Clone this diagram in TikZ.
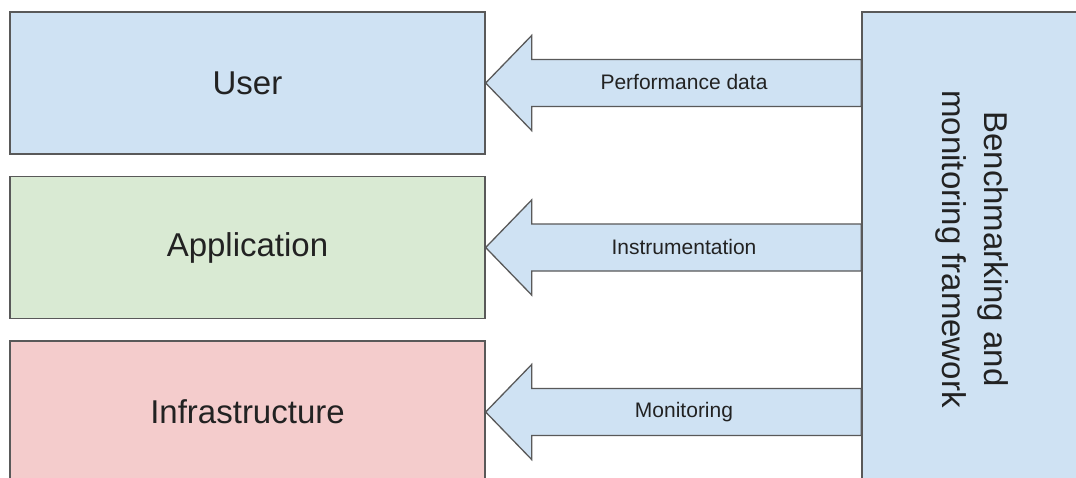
\documentclass[tikz,border=0pt]{standalone}
\usepackage{fontspec}
\setmainfont{Liberation Sans}
\usetikzlibrary{calc}
\definecolor{ublue}{HTML}{CFE2F3}
\definecolor{agreen}{HTML}{D9EAD3}
\definecolor{ired}{HTML}{F4CCCC}
\definecolor{edgegray}{HTML}{595959}
\definecolor{txt}{HTML}{222222}
\begin{document}
\begin{tikzpicture}[x=1pt,y=-1pt,
  layerbox/.style={draw=edgegray, line width=1.3pt, inner sep=0pt, minimum width=475pt, minimum height=142pt, text=txt, font=\fontsize{33}{40}\selectfont},
  blockarrow/.style={draw=edgegray, line width=1.3pt, fill=ublue, line join=miter},
  arrowlabel/.style={text=txt, font=\fontsize{21}{25}\selectfont, inner sep=0pt}]
\useasboundingbox (0,0) rectangle (1076,477);
\clip (0,0) rectangle (1076,477);
\fill[white] (0,0) rectangle (1076,477);
\node[layerbox, fill=ublue] (user) at (247.5,83) {User};
\node[layerbox, fill=agreen] (app) at (247.5,247.5) {Application};
\node[layerbox, fill=ired] (infra) at (247.5,412) {Infrastructure};
\node[draw=edgegray, line width=1.3pt, fill=ublue, inner sep=0pt, minimum width=228pt, minimum height=478pt] (fw) at (976,251) {};
\node[rotate=-90, align=center, text=txt, font=\fontsize{33}{42}\selectfont, inner sep=0pt] (fwtext) at (972,249) {Benchmarking and\\monitoring framework};
% arrows
\foreach \b/\n in {user/a1, app/a2, infra/a3}{
  \path (\b.east) ++(46,-23.5) coordinate (\n t) ++(0,47) coordinate (\n b);
  \draw[blockarrow] (\b.east) -- ++(46,-47.5) -- (\n t) -- (fw.west |- \n t) -- (fw.west |- \n b) -- (\n b) -- ++(0,24) -- cycle;
}
\node[arrowlabel] (l1) at (684,82) {Performance data};
\node[arrowlabel] (l2) at (684,247) {Instrumentation};
\node[arrowlabel] (l3) at (684,412) {Monitoring};
\end{tikzpicture}
\end{document}
